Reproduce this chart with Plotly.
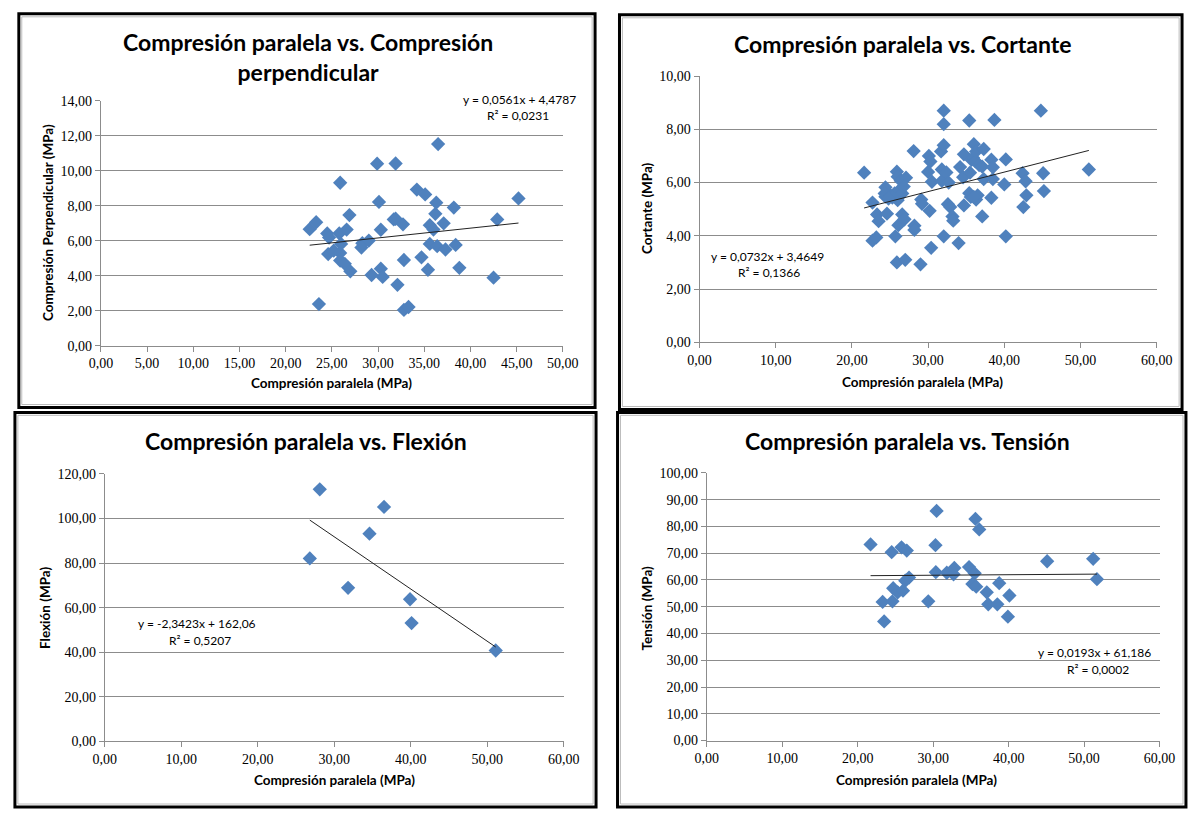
import plotly.graph_objects as go

W, H = 1200, 813

# ---------------- data ----------------
# Panel 1: Compresión paralela vs. Compresión perpendicular
p1_x = [22.6, 23.3, 23.6, 24.5, 24.7, 24.6, 25.2, 25.8, 25.9, 25.9, 26.0, 25.9, 26.4, 26.6, 26.9,
        27.0, 28.2, 28.3, 29.0, 29.3, 29.9, 30.1, 30.3, 30.3, 30.5, 31.7, 31.9, 31.9, 32.1, 32.7,
        32.8, 32.8, 33.3, 34.2, 34.7, 35.1, 35.4, 35.6, 35.6, 36.0, 36.3, 36.2, 36.4, 36.5, 37.1,
        37.3, 38.2, 38.4, 38.8, 42.5, 42.9, 45.2]
p1_y = [6.66, 7.06, 2.38, 6.42, 6.18, 5.24, 5.43, 6.42, 9.32, 5.30, 5.82, 4.87, 4.68, 6.64, 7.47,
        4.25, 5.61, 5.86, 6.01, 4.04, 10.41, 8.22, 6.63, 4.40, 3.93, 7.22, 7.26, 10.42, 3.48, 6.94,
        4.90, 2.04, 2.21, 8.93, 5.05, 8.65, 4.34, 6.89, 5.82, 6.64, 8.18, 7.54, 5.69, 11.53, 7.00,
        5.50, 7.90, 5.76, 4.45, 3.89, 7.22, 8.42]
p1_coef = [0.0561, 4.4787]
p1_eq = ["y = 0,0561x + 4,4787", "R² = 0,0231"]

# Panel 2: Compresión paralela vs. Cortante
p2_x = [21.6, 22.7, 22.7, 23.2, 23.3, 23.5, 24.4, 24.4, 24.6, 24.3, 25.1, 25.6, 25.7, 25.9, 25.9,
        26.0, 26.1, 26.2, 26.0, 26.4, 26.6, 26.6, 26.9, 27.0, 27.1, 28.1, 28.2, 28.2, 29.1, 29.2,
        29.0, 30.1, 30.3, 30.0, 30.2, 30.4, 30.5, 31.8, 31.7, 32.05, 32.05, 32.05, 32.05, 31.8, 32.4,
        32.7, 32.6, 32.9, 33.2, 33.3, 34.0, 34.2, 34.7, 34.7, 34.6, 35.4, 35.5, 35.4, 35.6, 35.7,
        35.9, 36.0, 36.2, 36.3, 36.5, 36.3, 36.0, 36.7, 37.1, 37.3, 37.3, 37.1, 38.3, 38.3, 38.5,
        38.5, 38.7, 40.0, 40.2, 40.2, 42.4, 42.8, 42.9, 42.5, 44.8, 45.1, 45.2, 51.1, 25.3, 26.8,
        24.8]
p2_y = [6.37, 5.25, 3.82, 3.94, 4.80, 4.55, 5.82, 5.47, 4.83, 5.59, 5.52, 5.59, 3.98, 3.00, 6.41,
        6.22, 4.40, 5.71, 5.34, 6.07, 5.59, 4.80, 4.62, 3.10, 6.18, 7.18, 4.38, 4.22, 5.36, 5.20,
        2.93, 7.00, 6.79, 6.40, 4.94, 3.55, 6.03, 6.49, 7.17, 7.40, 8.70, 8.19, 3.98, 6.06, 6.38,
        6.00, 5.19, 5.08, 4.73, 4.57, 3.73, 6.58, 7.06, 5.14, 6.20, 8.33, 6.37, 5.60, 5.46, 6.85,
        6.93, 7.44, 6.80, 7.17, 5.52, 5.36, 5.46, 6.66, 4.73, 7.26, 6.13, 6.60, 6.86, 5.43, 6.57,
        6.13, 8.35, 5.93, 6.87, 3.98, 6.35, 6.05, 5.52, 5.08, 8.70, 6.35, 5.68, 6.49, 5.44, 5.85,
        5.40]
p2_coef = [0.0732, 3.4649]
p2_eq = ["y = 0,0732x + 3,4649", "R² = 0,1366"]

# Panel 3: Compresión paralela vs. Flexión
p3_x = [26.8, 28.1, 31.8, 34.6, 36.5, 39.9, 40.1, 51.1]
p3_y = [82.1, 113.1, 68.9, 93.2, 105.2, 63.8, 53.1, 40.8]
p3_coef = [-2.3423, 162.06]
p3_eq = ["y = -2,3423x + 162,06", "R² = 0,5207"]

# Panel 4: Compresión paralela vs. Tensión
p4_x = [21.7, 24.5, 30.45, 30.3, 25.8, 26.5, 35.6, 36.1, 45.1, 51.2, 51.7, 30.35, 31.8, 32.7, 32.8,
        34.75, 35.5, 35.2, 35.7, 37.1, 38.75, 37.3, 38.5, 40.1, 39.9, 26.8, 26.3, 24.7, 25.3, 26.0,
        23.3, 24.6, 29.35, 23.5]
p4_y = [73.3, 70.4, 85.8, 73.0, 72.2, 71.0, 82.8, 78.9, 67.0, 67.9, 60.3, 62.9, 62.7, 62.1, 64.5,
        64.8, 62.5, 58.5, 57.5, 55.4, 58.8, 50.9, 50.9, 54.2, 46.3, 60.9, 59.7, 56.9, 55.4, 56.0,
        51.8, 52.0, 52.0, 44.5]
p4_coef = [0.0193, 61.186]
p4_eq = ["y = 0,0193x + 61,186", "R² = 0,0002"]

titles = ["Compresión paralela vs. Compresión<br>perpendicular",
          "Compresión paralela vs. Cortante",
          "Compresión paralela vs. Flexión",
          "Compresión paralela vs. Tensión"]
x_title = "Compresión paralela (MPa)"
y_titles = ["Compresión Perpendicular (MPa)", "Cortante (MPa)", "Flexión (MPa)", "Tensión (MPa)"]

# ---------------- layout helpers ----------------
def fx(p):
    return p / W

def fy(p):
    return 1 - p / H

BLUE = "#4F81BD"
GRID = "#8C8C8C"
TICKFONT = dict(family="Liberation Serif", size=14, color="black")
EQFONT = dict(family="Lato", size=12, color="black")
TITLEFONT = dict(family="Lato", size=23, color="black")
AXTFONT = dict(family="Lato", size=13.5, color="black")

panels = [
    dict(x=p1_x, y=p1_y, coef=p1_coef, eq=p1_eq,
         xd=(91, 564), yd=(95.7, 345), xr=(0, 50), dx=5, yr=(0, 14), dy=2,
         box=(7, 7, 597, 408), title_xy=(303, 51),
         xt_xy=(327, 383), yt_xy=(37, 220),
         eq_xy=(580, 94), r2_xy=(518, 111)),
    dict(x=p2_x, y=p2_y, coef=p2_coef, eq=p2_eq,
         xd=(704, 1172), yd=(70.3, 341.7), xr=(0, 60), dx=10, yr=(0, 10), dy=2,
         box=(622, 8, 1198, 410), title_xy=(912, 38),
         xt_xy=(932, 382), yt_xy=(650, 205),
         eq_xy=(833, 254), r2_xy=(775, 270)),
    dict(x=p3_x, y=p3_y, coef=p3_coef, eq=p3_eq,
         xd=(95, 565), yd=(475.7, 748.3), xr=(0, 60), dx=10, yr=(0, 120), dy=20,
         box=(3, 413, 598, 815), title_xy=(301, 442),
         xt_xy=(330, 788), yt_xy=(33, 612),
         eq_xy=(252, 628), r2_xy=(192, 645)),
    dict(x=p4_x, y=p4_y, coef=p4_coef, eq=p4_eq,
         xd=(711.4, 1175), yd=(474.7, 747.3), xr=(0, 60), dx=10, yr=(0, 100), dy=10,
         box=(620, 413, 1202, 815), title_xy=(917, 442),
         xt_xy=(926, 788), yt_xy=(650, 612),
         eq_xy=(1168, 658), r2_xy=(1112, 675)),
]

fig = go.Figure()
layout = dict(width=W, height=H, margin=dict(l=0, r=0, t=0, b=0),
              paper_bgcolor="white", plot_bgcolor="white", showlegend=False,
              separators=", ")
shapes = []
annotations = []

for i, p in enumerate(panels):
    n = "" if i == 0 else str(i + 1)
    xa, ya = "x" + n, "y" + n
    # scatter points
    fig.add_trace(go.Scatter(x=p["x"], y=p["y"], mode="markers", xaxis=xa, yaxis=ya,
                             marker=dict(symbol="diamond", size=11, color=BLUE,
                                         line=dict(width=0)),
                             hoverinfo="x+y"))
    # linear trendline over data range
    xmin, xmax = min(p["x"]), max(p["x"])
    m, b = p["coef"]
    fig.add_trace(go.Scatter(x=[xmin, xmax], y=[m * xmin + b, m * xmax + b], mode="lines",
                             xaxis=xa, yaxis=ya, line=dict(color="#222222", width=1),
                             hoverinfo="skip"))
    layout["xaxis" + n] = dict(domain=[fx(p["xd"][0]), fx(p["xd"][1])], range=list(p["xr"]),
                               dtick=p["dx"], tick0=0, anchor=ya, tickformat=".2f",
                               showgrid=False, zeroline=False, showline=True, linecolor=GRID,
                               linewidth=1, ticks="outside", ticklen=5, tickcolor=GRID,
                               tickfont=TICKFONT, fixedrange=True)
    layout["yaxis" + n] = dict(domain=[fy(p["yd"][1]), fy(p["yd"][0])], range=list(p["yr"]),
                               dtick=p["dy"], tick0=0, anchor=xa, tickformat=".2f",
                               showgrid=True, gridcolor=GRID, gridwidth=1, zeroline=False,
                               showline=True, linecolor=GRID, linewidth=1, ticks="outside",
                               ticklen=5, tickcolor=GRID, tickfont=TICKFONT, fixedrange=True)
    # border box
    x0, y0, x1, y1 = p["box"]
    shapes.append(dict(type="rect", xref="paper", yref="paper", x0=fx(x0 + 3), x1=fx(x1 - 3),
                       y0=fy(y1 - 3), y1=fy(y0 + 3), line=dict(color="#BBBBBB", width=1)))
    shapes.append(dict(type="rect", xref="paper", yref="paper", x0=fx(x0), x1=fx(x1),
                       y0=fy(y1), y1=fy(y0), line=dict(color="black", width=3)))
    # title
    annotations.append(dict(text="<b>" + titles[i] + "</b>", xref="paper", yref="paper",
                            x=fx(p["title_xy"][0]), y=fy(p["title_xy"][1]), showarrow=False,
                            font=TITLEFONT, xanchor="center", yanchor="middle"))
    # axis titles
    annotations.append(dict(text="<b>" + x_title + "</b>", xref="paper", yref="paper",
                            x=fx(p["xt_xy"][0]), y=fy(p["xt_xy"][1]), showarrow=False,
                            font=AXTFONT, xanchor="center", yanchor="middle"))
    annotations.append(dict(text="<b>" + y_titles[i] + "</b>", xref="paper", yref="paper",
                            x=fx(p["yt_xy"][0]), y=fy(p["yt_xy"][1]), showarrow=False,
                            font=AXTFONT, xanchor="center", yanchor="middle", textangle=-90))
    # equation texts
    annotations.append(dict(text=p["eq"][0], xref="paper", yref="paper",
                            x=fx(p["eq_xy"][0]), y=fy(p["eq_xy"][1]), showarrow=False,
                            font=EQFONT, xanchor="right", yanchor="middle"))
    annotations.append(dict(text=p["eq"][1], xref="paper", yref="paper",
                            x=fx(p["r2_xy"][0]), y=fy(p["r2_xy"][1]), showarrow=False,
                            font=EQFONT, xanchor="center", yanchor="middle"))

layout["shapes"] = shapes
layout["annotations"] = annotations
fig.update_layout(**layout)
fig.write_html("out.html")
